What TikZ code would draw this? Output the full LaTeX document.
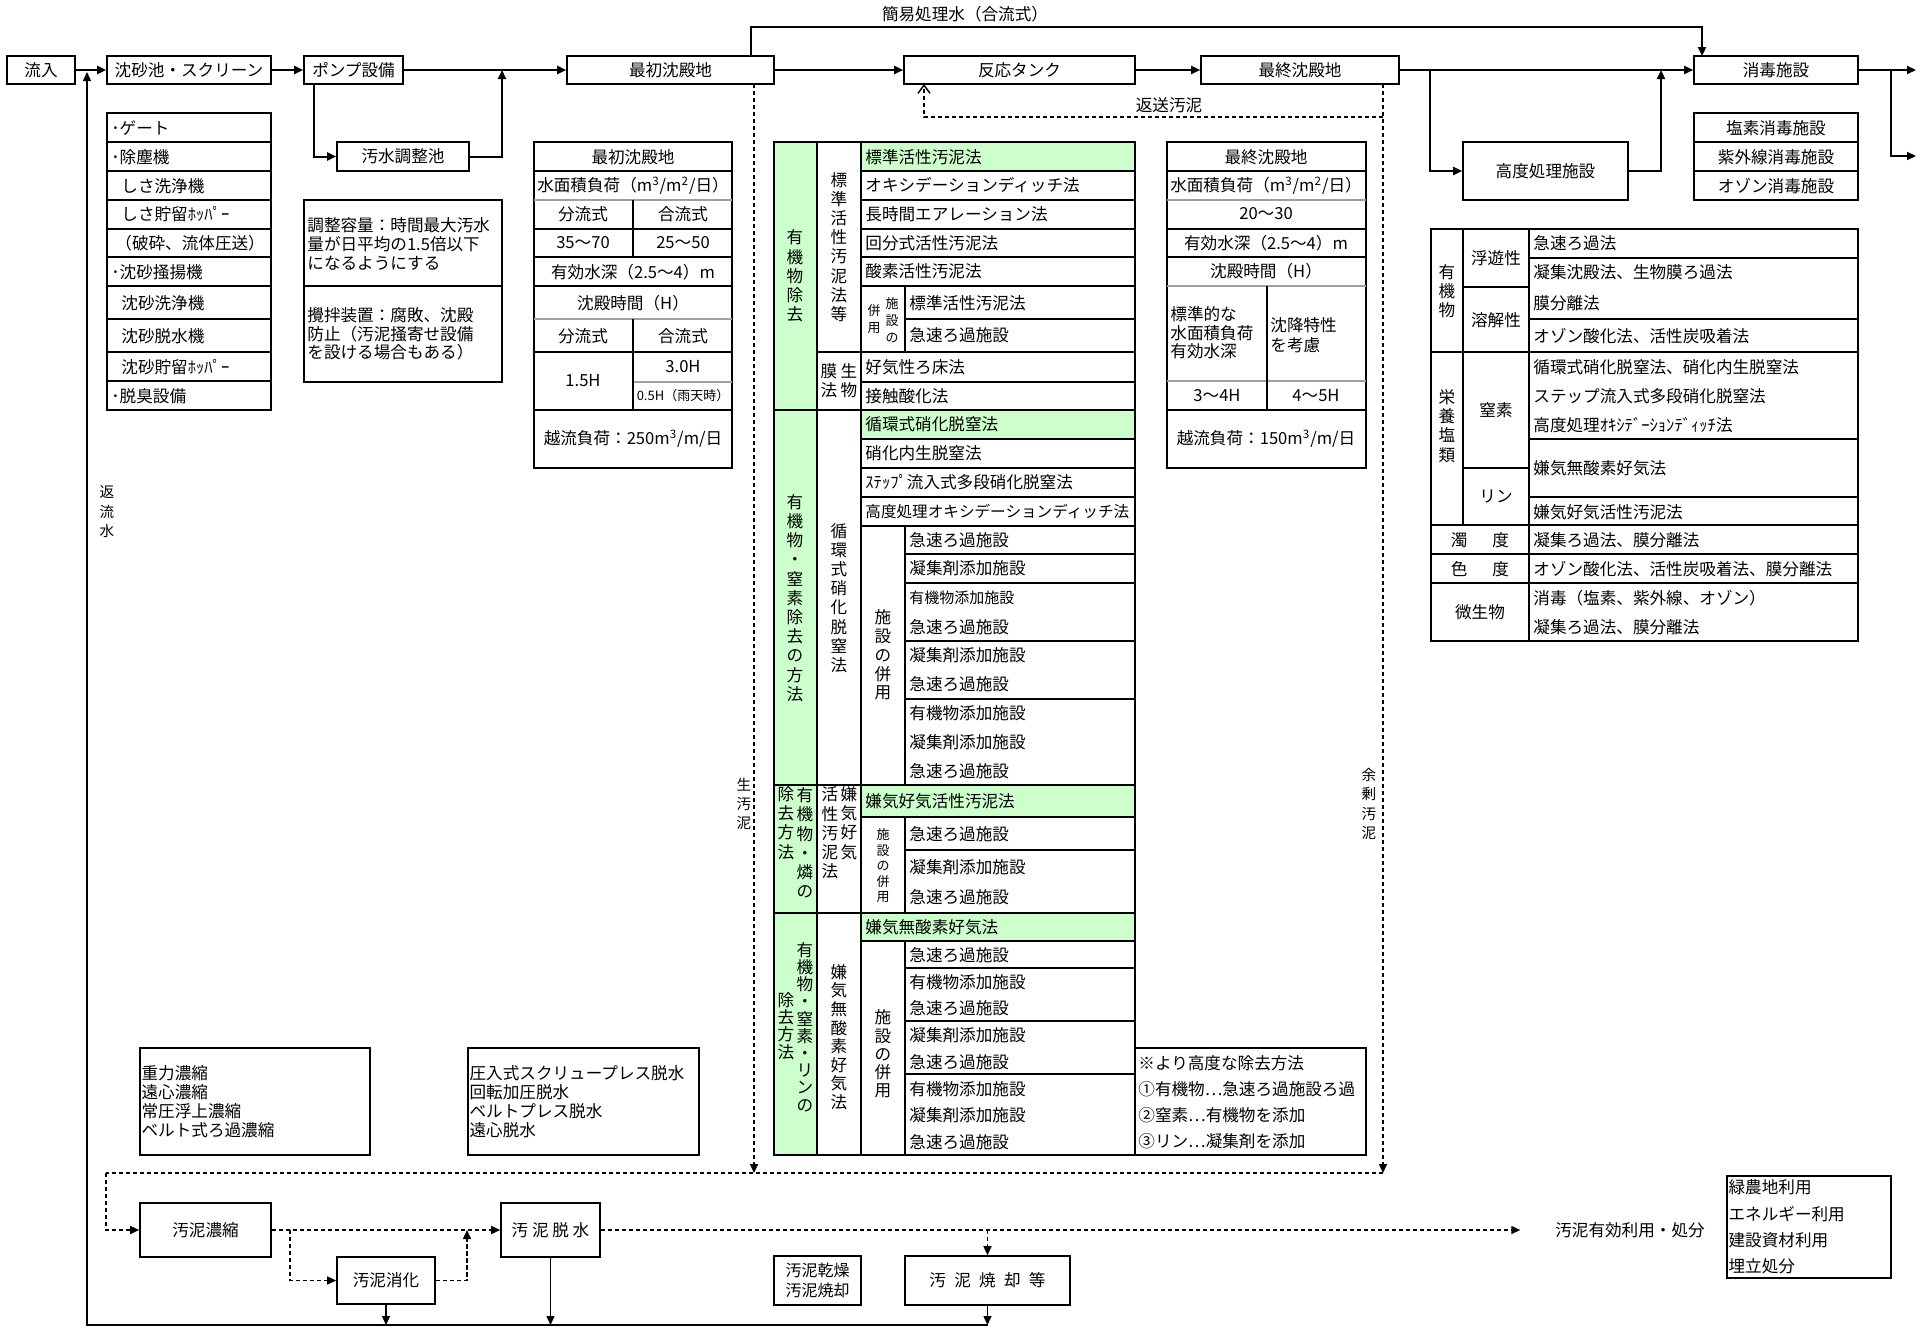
\documentclass[tikz,border=0pt]{standalone}
\usepackage{fontspec}
\setmainfont{Noto Sans CJK JP}
\usepackage{tikz}
\usetikzlibrary{arrows.meta,fit}
\definecolor{paleg}{HTML}{CCFFCC}
\definecolor{lgray}{HTML}{A0A0A0}
\newcommand\fA{\fontsize{8.3}{9.6}\selectfont}
\newcommand\fS{\fontsize{6.5}{8.5}\selectfont}
\newcommand\fL{\fontsize{7.3}{9.7}\selectfont}
\tikzset{
  every picture/.style={font=\fA, line join=miter, >={Triangle[length=4.5pt,width=4pt]}},
  pbox/.style={draw, line width=0.8pt, inner sep=0pt},
  flow/.style={line width=1pt, ->},
  rflow/.style={line width=0.7pt, ->},
  dline/.style={line width=0.75pt, dash pattern=on 2.2pt off 1.3pt},
  dflow/.style={dline, ->},
  tline/.style={line width=0.75pt},
  faint/.style={line width=0.6pt, draw=lgray},
  wt/.style={anchor=west, inner sep=1pt},
  vt/.style={align=center, inner sep=0pt},
}
\begin{document}
\begin{tikzpicture}[x=0.5pt,y=-0.5pt]
\useasboundingbox (0,0) rectangle (1920,1328);
% water line
\node[pbox, fit={(7,56)(75,84)}, label=center:流入] (inflow) {};
\node[pbox, fit={(107,56)(271,84)}, label=center:沈砂池・スクリーン] (grit) {};
\node[pbox, fit={(304,56)(403,84)}, label=center:ポンプ設備] (pump) {};
\node[pbox, fit={(337,142)(469,171)}, label=center:汚水調整池] (adjust) {};
\node[pbox, fit={(567,56)(774,84)}, label=center:最初沈殿地] (primary) {};
\node[pbox, fit={(904,56)(1135,84)}, label=center:反応タンク] (reactor) {};
\node[pbox, fit={(1201,56)(1399,84)}, label=center:最終沈殿地] (final) {};
\node[pbox, fit={(1463,142)(1628,200)}, label=center:高度処理施設] (advanced) {};
\node[pbox, fit={(1694,56)(1858,84)}, label=center:消毒施設] (disinf) {};
\draw[flow] (inflow) -- (grit);
\draw[flow] (grit) -- (pump);
\draw[flow] (pump) -- (primary);
\draw[flow] ([xshift=5.5pt]pump.south west) |- (adjust);
\coordinate (adj-up) at (502,70);
\draw[flow] (adjust) -| (adj-up);
\coordinate (byp-a) at (751,56); \coordinate (byp-b) at (1702,56);
\draw[flow] (byp-a) -- ++(0,-29) -| (byp-b);
\node (byp-l) at (965,14) {簡易処理水（合流式）};
\draw[flow] (primary) -- (reactor);
\draw[flow] (reactor) -- (final);
\draw[flow] (final) -- (disinf);
\coordinate (adv-a) at (1430,70); \coordinate (adv-b) at (1661,70);
\draw[flow] (adv-a) |- (advanced);
\draw[flow] (advanced) -| (adv-b);
\coordinate (out-j) at (1891,70); \coordinate (out-a) at (1916,70); \coordinate (out-b) at (1916,156);
\draw[flow] (disinf) -- (out-a);
\draw[flow] (out-j) |- (out-b);
% sludge lines
\coordinate (raw-a) at (754,84); \coordinate (raw-b) at (754,1173);
\coordinate (ex-a) at (1383,84); \coordinate (ex-b) at (1383,1173);
\coordinate (ret-a) at (1383,117); \coordinate (ret-b) at (924,84);
\coordinate (sl-a) at (106,1173);
\draw[dflow] (raw-a) -- (raw-b);
\draw[dflow] (ex-a) -- (ex-b);
\draw[dline, -{Straight Barb[length=4pt,width=6pt]}] (ret-a) -| (ret-b);
\draw[dline] (ex-b) -- (sl-a);
\node (lab-rs) at (1169,105) {返送汚泥};
\node[vt, font=\fL] (lab-raw) at (744,804) {生\\汚\\泥};
\node[vt, font=\fL] (lab-ex) at (1369,804) {余\\剰\\汚\\泥};
\node[vt, font=\fL] (lab-ret) at (107,512) {返\\流\\水};
% sludge treatment
\node[pbox, fit={(140,1203)(271,1257)}, label=center:汚泥濃縮] (thicken) {};
\node[pbox, fit={(337,1257)(435,1304)}, label=center:汚泥消化] (digest) {};
\node[pbox, fit={(501,1203)(600,1257)}, label=center:汚 泥 脱 水] (dewater) {};
\node[pbox, fit={(774,1256)(861,1305)}, label={[align=center, font=\fontsize{8}{9.6}\selectfont]center:汚泥乾燥\\汚泥焼却}] (dry) {};
\node[pbox, fit={(905,1256)(1070,1305)}, label=center:{汚\hspace{0.5em}泥\hspace{0.5em}焼\hspace{0.5em}却\hspace{0.5em}等}] (incin) {};
\node (util) at (1630,1230) {汚泥有効利用・処分};
\draw[dflow] (sl-a) |- (thicken);
\draw[dflow] (thicken) -- (dewater);
\coordinate (dg-a) at (290,1230); \coordinate (dg-b) at (467,1230);
\draw[dflow] (dg-a) |- (digest);
\draw[dflow] (digest) -| (dg-b);
\draw[dflow, shorten >=14pt] (dewater) -- (util);
\draw[dflow] (incin |- dewater) -- (incin);
\coordinate (bot) at (87,1325); \coordinate (ret-top) at (87,72);
\draw[rflow] (digest) -- (digest |- bot);
\draw[rflow] (dewater) -- (dewater |- bot);
\draw[rflow] (incin) -- (incin |- bot);
\draw[rflow] (incin |- bot) -- (bot) -- (ret-top);
\node[pbox, fit={(140,1048)(370,1155)}] (thk-box) {};
\node[wt, align=left, font=\fontsize{8.3}{9.5}\selectfont] (thk-list) at (thk-box.west) {重力濃縮\\遠心濃縮\\常圧浮上濃縮\\ベルト式ろ過濃縮};
\node[pbox, fit={(468,1048)(699,1155)}] (dwt-box) {};
\node[wt, align=left, font=\fontsize{8.3}{9.5}\selectfont] (dwt-list) at (dwt-box.west) {圧入式スクリュープレス脱水\\回転加圧脱水\\ベルトプレス脱水\\遠心脱水};
\node[pbox, fit={(1727,1176)(1891,1278)}] (use-box) {};
\node[wt, align=left, font=\fontsize{8.3}{13.1}\selectfont] (use-list) at (use-box.west) {緑農地利用\\エネルギー利用\\建設資材利用\\埋立処分};
% equipment list and notes
\draw[tline] (107,113) rectangle (271,410);
\foreach \y in {142,171,200,229,257,286,319,352,381} \draw[tline] (107,\y) -- (271,\y);
\foreach \x/\y/\t [count=\k] in {109/128/･ゲート, 109/157/･除塵機, 119/186/しさ洗浄機, 119/214/しさ貯留ﾎｯﾊﾟｰ, 113/243/（破砕、流体圧送）, 109/272/･沈砂掻揚機, 119/303/沈砂洗浄機, 119/336/沈砂脱水機, 119/367/沈砂貯留ﾎｯﾊﾟｰ, 109/396/･脱臭設備}
  \node[wt] (eq\k) at (\x,\y) {\t};
\draw[tline] (304,200) rectangle (502,382); \draw[tline] (304,286) -- (502,286);
\node[wt, align=left, font=\fontsize{8.3}{9.35}\selectfont] (note-a) at (305,244) {調整容量：時間最大汚水\\量が日平均の1.5倍以下\\になるようにする};
\node[wt, align=left, font=\fontsize{8.3}{9.35}\selectfont] (note-b) at (305,334) {攪拌装置：腐敗、沈殿\\防止（汚泥掻寄せ設備\\を設ける場合もある）};
\draw[tline] (1694,113) rectangle (1858,200);
\draw[tline] (1694,142) -- (1858,142) (1694,171) -- (1858,171);
\foreach \y/\t [count=\k] in {128/塩素消毒施設, 157/紫外線消毒施設, 186/オゾン消毒施設} \node (dis\k) at (1776,\y) {\t};
% primary settling table
\draw[tline] (534,142) rectangle (732,468);
\foreach \y in {171,229,257,286,352,410} \draw[tline] (534,\y) -- (732,\y);
\foreach \y in {200,319} \draw[faint] (534,\y) -- (732,\y);
\draw[faint] (633,382) -- (732,382);
\draw[tline] (633,200) -- (633,257) (633,319) -- (633,410);
\node (ps1) at (633,157) {最初沈殿地};
\node (ps2) at (633,186) {水面積負荷（m\textsuperscript{3}/m\textsuperscript{2}/日）};
\node (ps3) at (583,214) {分流式}; \node (ps4) at (683,214) {合流式};
\node (ps5) at (583,243) {35～70}; \node (ps6) at (683,243) {25～50};
\node (ps7) at (633,272) {有効水深（2.5～4）m};
\node (ps8) at (633,303) {沈殿時間（H）};
\node (ps9) at (583,336) {分流式}; \node (ps10) at (683,336) {合流式};
\node (ps11) at (583,381) {1.5H}; \node (ps12) at (683,367) {3.0H};
\node[font=\fS] (ps13) at (683,396) {0.5H（雨天時）};
\node (ps14) at (633,439) {越流負荷：250m\textsuperscript{3}/m/日};
% final settling table
\draw[tline] (1167,142) rectangle (1366,468);
\foreach \y in {171,229,257,410} \draw[tline] (1167,\y) -- (1366,\y);
\foreach \y in {200,286,381} \draw[faint] (1167,\y) -- (1366,\y);
\draw[tline] (1267,286) -- (1267,410);
\node (fs1) at (1266,157) {最終沈殿地};
\node (fs2) at (1266,186) {水面積負荷（m\textsuperscript{3}/m\textsuperscript{2}/日）};
\node (fs3) at (1266,214) {20～30};
\node (fs4) at (1266,243) {有効水深（2.5～4）m};
\node (fs5) at (1266,271) {沈殿時間（H）};
\node[wt, align=left, font=\fontsize{8.3}{9.25}\selectfont] (fs6) at (1168,333) {標準的な\\水面積負荷\\有効水深};
\node[wt, align=left, font=\fontsize{8.3}{9.8}\selectfont] (fs7) at (1268,335) {沈降特性\\を考慮};
\node (fs8) at (1217,396) {3～4H}; \node (fs9) at (1316,396) {4～5H};
\node (fs10) at (1266,439) {越流負荷：150m\textsuperscript{3}/m/日};
% treatment methods table
\fill[paleg] (774,142) rectangle (817,1155);
\foreach \ya/\yb in {142/171,410/439,785/817,913/941} \fill[paleg] (861,\ya) rectangle (1135,\yb);
\draw[tline] (774,142) rectangle (1135,1155);
\draw[tline] (817,142) -- (817,1155) (861,142) -- (861,1155);
\draw[tline] (905,286) -- (905,352) (905,526) -- (905,785) (905,817) -- (905,913) (905,941) -- (905,1155);
\foreach \y in {410,785,913} \draw[tline] (774,\y) -- (1135,\y);
\draw[tline] (817,352) -- (1135,352);
\foreach \y in {171,200,229,257,286,382,439,468,497,526,817,941} \draw[tline] (861,\y) -- (1135,\y);
\foreach \y in {319,554,583,641,699,850,968,1021,1074} \draw[tline] (905,\y) -- (1135,\y);
\foreach \y/\t [count=\k] in {157/標準活性汚泥法, 185/オキシデーションディッチ法, 214/長時間エアレーション法, 243/回分式活性汚泥法, 271/酸素活性汚泥法, 367/好気性ろ床法, 396/接触酸化法, 424/循環式硝化脱窒法, 453/硝化内生脱窒法, 482/ｽﾃｯﾌﾟ流入式多段硝化脱窒法, 801/嫌気好気活性汚泥法, 927/嫌気無酸素好気法}
  \node[wt] (m\k) at (863,\y) {\t};
\node[wt, font=\fontsize{7.8}{9}\selectfont] (m13) at (863,511) {高度処理オキシデーションディッチ法};
\foreach \y/\t [count=\k] in {303/標準活性汚泥法, 335/急速ろ過施設, 540/急速ろ過施設, 568/凝集剤添加施設, 627/急速ろ過施設, 655/凝集剤添加施設, 684/急速ろ過施設, 713/有機物添加施設, 742/凝集剤添加施設, 771/急速ろ過施設, 834/急速ろ過施設, 867/凝集剤添加施設, 897/急速ろ過施設, 955/急速ろ過施設, 982/有機物添加施設, 1008/急速ろ過施設, 1035/凝集剤添加施設, 1062/急速ろ過施設, 1089/有機物添加施設, 1115/凝集剤添加施設, 1142/急速ろ過施設}
  \node[wt] (f\k) at (907,\y) {\t};
\node[wt, font=\fontsize{7.5}{9}\selectfont] (f22) at (907,598) {有機物添加施設};
\node[vt] (c1a) at (795,276) {有\\機\\物\\除\\去};
\node[vt] (c1b) at (795,598) {有\\機\\物\\・\\窒\\素\\除\\去\\の\\方\\法};
\node[vt] (c1c) at (805,843) {有\\機\\物\\・\\燐\\の};
\node[vt] (c1d) at (786,823) {除\\去\\方\\法};
\node[vt, font=\fontsize{8.3}{8.6}\selectfont] (c1e) at (805,1027) {有\\機\\物\\・\\窒\\素\\・\\リ\\ン\\の};
\node[vt, font=\fontsize{8.3}{8.6}\selectfont] (c1f) at (786,1026) {除\\去\\方\\法};
\node[vt] (c2a) at (839,247) {標\\準\\活\\性\\汚\\泥\\法\\等};
\node[vt] (c2b) at (849,381) {生\\物};
\node[vt] (c2c) at (829,381) {膜\\法};
\node[vt] (c2d) at (839,598) {循\\環\\式\\硝\\化\\脱\\窒\\法};
\node[vt] (c2e) at (849,823) {嫌\\気\\好\\気};
\node[vt] (c2f) at (830,833) {活\\性\\汚\\泥\\法};
\node[vt, font=\fontsize{8.3}{9.3}\selectfont] (c2g) at (839,1037) {嫌\\気\\無\\酸\\素\\好\\気\\法};
\node[vt, font=\fS] (c3a) at (892,320) {施\\設\\の};
\node[vt, font=\fS] (c3b) at (874,319) {併\\用};
\node[vt, font=\fontsize{8.3}{9.4}\selectfont] (c3c) at (883,655) {施\\設\\の\\併\\用};
\node[vt, font=\fontsize{6.5}{7.75}\selectfont] (c3d) at (883,866) {施\\設\\の\\併\\用};
\node[vt, font=\fontsize{8.3}{9.1}\selectfont] (c3e) at (883,1054) {施\\設\\の\\併\\用};
\draw[tline] (1135,1048) rectangle (1366,1155);
\node[wt, align=left, font=\fontsize{8.3}{13.1}\selectfont] (adv-note) at (1136,1102) {※より高度な除去方法\\①有機物⋯急速ろ過施設ろ過\\②窒素⋯有機物を添加\\③リン⋯凝集剤を添加};
% advanced treatment table
\draw[tline] (1431,229) rectangle (1858,641);
\draw[tline] (1463,229) -- (1463,525) (1529,229) -- (1529,641);
\foreach \y in {352,525,554,583} \draw[tline] (1431,\y) -- (1858,\y);
\foreach \y in {287,468} \draw[tline] (1463,\y) -- (1529,\y);
\foreach \y in {258,319,439,497} \draw[tline] (1529,\y) -- (1858,\y);
\node[vt] (r1) at (1447,291) {有\\機\\物};
\node[vt] (r2) at (1447,426) {栄\\養\\塩\\類};
\node (r3) at (1496,258) {浮遊性}; \node (r4) at (1496,320) {溶解性};
\node (r5) at (1496,410) {窒素}; \node (r6) at (1496,497) {リン};
\node (r7) at (1480,540) {濁\hspace{1.5em}度};
\node (r8) at (1480,569) {色\hspace{1.5em}度};
\node (r9) at (1480,612) {微生物};
\foreach \y/\t [count=\k] in {243/急速ろ過法, 272/凝集沈殿法、生物膜ろ過法, 303/膜分離法, 336/オゾン酸化法、活性炭吸着法, 367/循環式硝化脱窒法、硝化内生脱窒法, 396/ステップ流入式多段硝化脱窒法, 425/高度処理ｵｷｼﾃﾞｰｼｮﾝﾃﾞｨｯﾁ法, 468/嫌気無酸素好気法, 512/嫌気好気活性汚泥法, 540/凝集ろ過法、膜分離法, 569/オゾン酸化法、活性炭吸着法、膜分離法, 598/消毒（塩素、紫外線、オゾン）, 627/凝集ろ過法、膜分離法}
  \node[wt] (a\k) at (1531,\y) {\t};
\end{tikzpicture}
\end{document}
